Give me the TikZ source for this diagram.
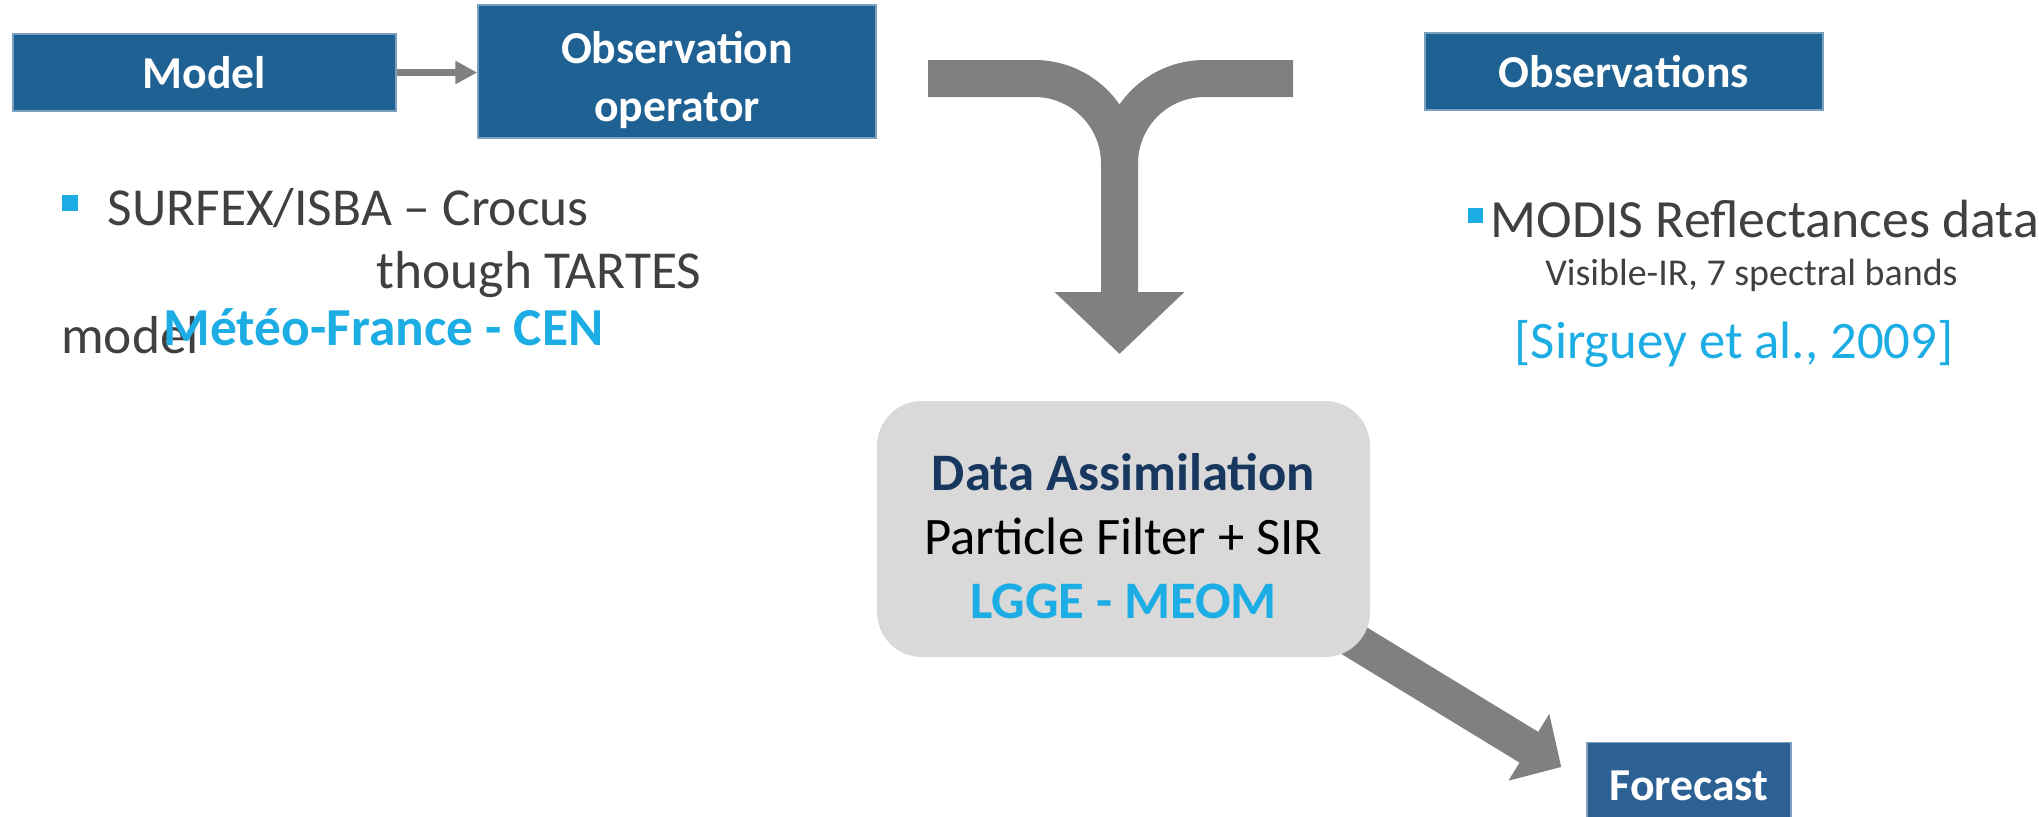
\documentclass[tikz,border=0pt]{standalone}
\usepackage{fontspec}
\setmainfont{Carlito}
\usepackage{xcolor}
\usetikzlibrary{arrows.meta, positioning, backgrounds}
\definecolor{boxblue}{HTML}{1F6193}
\definecolor{fcblue}{HTML}{2D6194}
\definecolor{arrowgray}{HTML}{808080}
\definecolor{textgray}{HTML}{404040}
\definecolor{labcyan}{HTML}{1CADE4}
\definecolor{dablue}{HTML}{17375E}
\definecolor{dagray}{HTML}{D9D9D9}

\begin{document}
\begin{tikzpicture}[
  stage/.style={fill=boxblue, draw=boxblue!60!white, line width=0.4pt, text=white, font=\fontsize{13}{16.6}\selectfont\bfseries, align=center, inner sep=0pt, minimum height=0.77cm},
  note/.style={inner sep=0pt, anchor=base west, text=textgray, font=\fontsize{15.2}{18}\selectfont},
  bulletsq/.style={fill=labcyan, inner sep=0pt, minimum size=0.16cm},
  bigpipe/.style={line width=0.37cm, arrowgray},
  fatarrow/.style={line width=0.36cm, arrowgray, -{Triangle[width=7.6mm, length=3.8mm]}}
]
  \useasboundingbox (0,0) rectangle (20.39,-8.16);

  % Top row of boxes
  \node[stage, minimum width=3.83cm] (model) at (2.045,-0.725) {Model};
  \node[stage, minimum width=3.98cm, minimum height=1.33cm] (obsop) at (6.77,-0.715) {\rule{0pt}{14pt}Observation\\operator};
  \node[stage, minimum width=3.98cm] (obs) at (16.24,-0.715) {Observations};
  \draw[line width=0.077cm, arrowgray, -{Triangle[width=2.2mm, length=2.2mm]}] (model.east) -- (model.east -| obsop.west);

  % Model side notes
  \node[bulletsq] (b1) at (0.70,-2.03) {};
  \node[note] (surfex) at (1.07,-2.255) {SURFEX/ISBA – Crocus};
  \node[note] (tartes) at (3.76,-2.886) {though TARTES};
  \node[note] (modelword) at (0.606,-3.53) {model};
  \node[note, text=labcyan, font=\fontsize{15.2}{18}\selectfont\bfseries] (cen) at (1.63,-3.456) {Météo-France - CEN};

  % Observation side notes
  \node[bulletsq, minimum size=0.15cm] (b2) at (14.75,-2.15) {};
  \node[note, font=\fontsize{15.3}{18}\selectfont] (modis) at (14.90,-2.37) {MODIS Reflectances data};
  \node[note, anchor=base, font=\fontsize{10.8}{13}\selectfont] (bands) at (17.515,-2.85) {Visible-IR, 7 spectral bands};
  \node[note, anchor=base, text=labcyan, font=\fontsize{15}{18}\selectfont] (ref) at (17.34,-3.58) {[Sirguey et al., 2009]};

  % Data assimilation and forecast
  \node[fill=dagray, rounded corners=4.5mm, minimum width=4.93cm, minimum height=2.56cm, align=center, inner sep=0pt, font=\fontsize{15}{18.2}\selectfont] (da) at (11.235,-5.29)
    {\rule{0pt}{14.5pt}\textcolor{dablue}{\bfseries Data Assimilation}\\Particle Filter + SIR\\\textcolor{labcyan}{\bfseries LGGE - MEOM}};
  \node[stage, fill=fcblue, draw=fcblue!60!white, minimum width=2.04cm] (fc) at (16.89,-7.81) {\rule{0pt}{11pt}Forecast};

  % Merging arrow
  \coordinate (yl) at (9.28,-0.785);
  \coordinate (yr) at (12.93,-0.785);
  \coordinate (yt) at (11.195,-3.54);
  \draw[bigpipe] (yr) -- ++(-0.885,0) arc (90:180:0.85);
  \draw[bigpipe, -{Triangle[width=12.6mm, length=6.2mm]}] (yl) -- ++(1.065,0) arc (90:0:0.85) -- (yt);

  % Forecast arrow
  \coordinate (fcin) at ([xshift=-2.5mm, yshift=1.4mm]fc.west);
  \begin{scope}[on background layer]
    \draw[fatarrow] ([yshift=2.9mm]da.center) -- (fcin);
  \end{scope}
\end{tikzpicture}
\end{document}
